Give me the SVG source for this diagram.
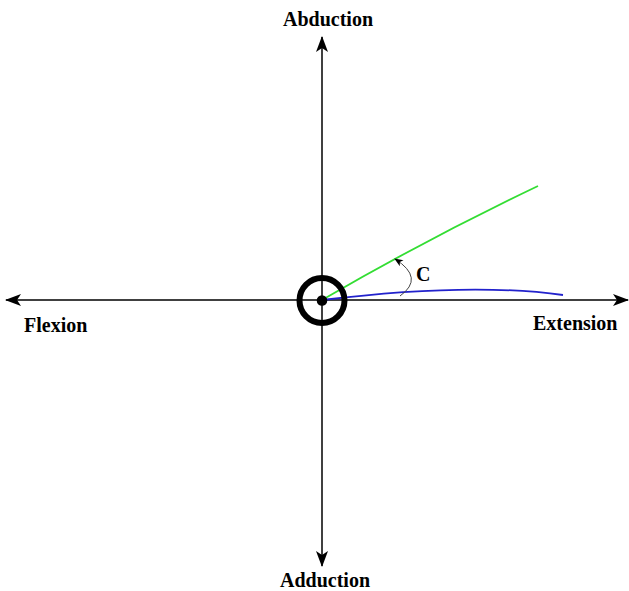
<svg xmlns="http://www.w3.org/2000/svg" width="629" height="591" viewBox="0 0 629 591">
<style>
.lbl{font-family:"Liberation Serif","Times New Roman",serif;font-weight:bold;font-size:20px;fill:#000}
.axis{stroke:#000;stroke-width:1.5;fill:none}
</style>
<defs>
<marker id="ah" viewBox="0 0 16 12" refX="15" refY="6" markerWidth="16" markerHeight="12" markerUnits="userSpaceOnUse" orient="auto">
<path d="M0,0 L16,6 L0,12 L4,6 Z" fill="#000"/>
</marker>
<marker id="sah" viewBox="0 0 10 8" refX="9" refY="4" markerWidth="9" markerHeight="7" markerUnits="userSpaceOnUse" orient="auto">
<path d="M0,0 L10,4 L0,8 L2.5,4 Z" fill="#000"/>
</marker>
</defs>
<rect width="629" height="591" fill="#fff"/>
<g id="connectors">
<line class="axis" x1="322" y1="300" x2="628" y2="300" marker-end="url(#ah)"/>
<line class="axis" x1="322" y1="300" x2="6" y2="300" marker-end="url(#ah)"/>
<line class="axis" x1="322" y1="300" x2="322" y2="37" marker-end="url(#ah)"/>
<line class="axis" x1="322" y1="300" x2="322" y2="566" marker-end="url(#ah)"/>
<path d="M322,300 Q425,240 538,186" stroke="#33dd33" stroke-width="1.8" fill="none"/>
<path d="M322,300 Q470,282 563,295" stroke="#2222cc" stroke-width="1.8" fill="none"/>
<path d="M400,296 Q425,278 395,259" stroke="#444" stroke-width="1" fill="none" marker-end="url(#sah)"/>
</g>
<g id="joint">
<circle cx="322" cy="300.5" r="22.5" fill="none" stroke="#000" stroke-width="6"/>
<circle cx="322" cy="300.5" r="5.3" fill="#000"/>
</g>
<g id="label-abduction"><text class="lbl" x="328" y="26" text-anchor="middle">Abduction</text></g>
<g id="label-adduction"><text class="lbl" x="325" y="587" text-anchor="middle">Adduction</text></g>
<g id="label-flexion"><text class="lbl" x="24" y="332">Flexion</text></g>
<g id="label-extension"><text class="lbl" x="533" y="330">Extension</text></g>
<g id="label-c"><text class="lbl" x="416" y="281">C</text></g>
</svg>
